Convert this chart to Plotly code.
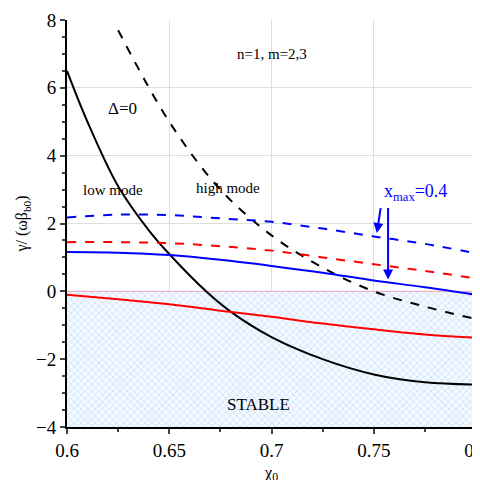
import plotly.graph_objects as go

x_all = [0.6, 0.625, 0.65, 0.675, 0.7, 0.725, 0.75, 0.775, 0.8]
black_solid_x = [0.6, 0.61, 0.625, 0.64, 0.65, 0.668, 0.68, 0.7, 0.725, 0.75, 0.775, 0.8]
black_solid_y = [6.5, 5.0, 3.1, 1.8, 1.1, 0.0, -0.6, -1.35, -2.0, -2.45, -2.68, -2.75]
black_dash_x = [0.625, 0.65, 0.675, 0.7, 0.725, 0.75, 0.775, 0.8]
black_dash_y = [7.7, 5.0, 3.0, 1.65, 0.7, 0.0, -0.45, -0.82]
blue_dash_y = [2.18, 2.26, 2.25, 2.15, 2.05, 1.85, 1.62, 1.4, 1.12]
red_dash_y = [1.45, 1.45, 1.42, 1.33, 1.2, 1.0, 0.8, 0.6, 0.38]
blue_solid_y = [1.16, 1.14, 1.07, 0.93, 0.75, 0.55, 0.32, 0.12, -0.1]
red_solid_y = [-0.1, -0.23, -0.38, -0.57, -0.75, -0.95, -1.12, -1.27, -1.37]

F = "Liberation Serif"
fig = go.Figure()
fig.add_trace(go.Scatter(x=[0.6, 0.8, 0.8, 0.6], y=[0, 0, -4, -4], fill="toself", mode="lines",
                         line=dict(width=0), fillcolor="rgba(0,0,0,0)",
                         fillpattern=dict(shape="x", fgcolor="#8cc0f0", bgcolor="#f4f9ff", size=5, solidity=0.25)))
fig.add_trace(go.Scatter(x=[0.6, 0.8], y=[0, 0], mode="lines", line=dict(color="#f0a0c8", width=1)))
fig.add_trace(go.Scatter(x=black_solid_x, y=black_solid_y, mode="lines", line=dict(color="black", width=2, shape="spline")))
fig.add_trace(go.Scatter(x=black_dash_x, y=black_dash_y, mode="lines", line=dict(color="black", width=2, dash="dash", shape="spline")))
fig.add_trace(go.Scatter(x=x_all, y=blue_dash_y, mode="lines", line=dict(color="blue", width=2, dash="dash", shape="spline")))
fig.add_trace(go.Scatter(x=x_all, y=red_dash_y, mode="lines", line=dict(color="red", width=2, dash="dash", shape="spline")))
fig.add_trace(go.Scatter(x=x_all, y=blue_solid_y, mode="lines", line=dict(color="blue", width=2, shape="spline")))
fig.add_trace(go.Scatter(x=x_all, y=red_solid_y, mode="lines", line=dict(color="red", width=2, shape="spline")))

def txt(x, y, t, c="black", s=15):
    fig.add_annotation(x=x, y=y, text=t, showarrow=False, font=dict(family=F, size=s, color=c))
txt(0.7, 7.0, "n=1, m=2,3")
txt(0.627, 5.4, "Δ=0", s=17)
txt(0.6225, 3.0, "low mode")
txt(0.6785, 3.05, "high mode")
txt(0.7705, 2.9, "x<sub>max</sub>=0.4", c="blue", s=18)
txt(0.6935, -3.35, "STABLE", s=17)
for (x0, y0, x1, y1) in [(0.7535, 2.5, 0.7515, 1.72), (0.757, 2.5, 0.757, 0.35)]:
    fig.add_annotation(x=x1, y=y1, ax=x0, ay=y0, axref="x", ayref="y", xref="x", yref="y",
                       text="", showarrow=True, arrowhead=2, arrowsize=1, arrowwidth=2, arrowcolor="blue")

fig.update_layout(width=480, height=480, showlegend=False, plot_bgcolor="white", paper_bgcolor="white",
                  margin=dict(l=59, r=12, t=12, b=61, autoexpand=False), font=dict(family=F, size=19, color="black"))
fig.update_xaxes(range=[0.6, 0.8], tickvals=[0.6, 0.65, 0.7, 0.75, 0.8], ticktext=["0.6", "0.65", "0.7", "0.75", "0.8"],
                 showgrid=True, gridcolor="#dddddd", showline=True, linecolor="black", linewidth=2, automargin=False,
                 ticks="outside", ticklen=5, tickwidth=1.5, zeroline=False,
                 title=dict(text="χ<sub>0</sub>", standoff=6, font=dict(size=17)), minor=dict(ticks="outside", ticklen=3, dtick=0.025))
fig.update_yaxes(range=[-4, 8], dtick=2, showgrid=True, gridcolor="#dddddd", showline=True, linecolor="black", linewidth=2,
                 automargin=False, ticks="outside", ticklen=5, tickwidth=1.5, zeroline=False,
                 title=dict(text="γ/ (ωβ<sub>b0</sub>)", standoff=4, font=dict(size=16)), minor=dict(ticks="outside", ticklen=3, dtick=0.5))
fig.write_html("out.html")
